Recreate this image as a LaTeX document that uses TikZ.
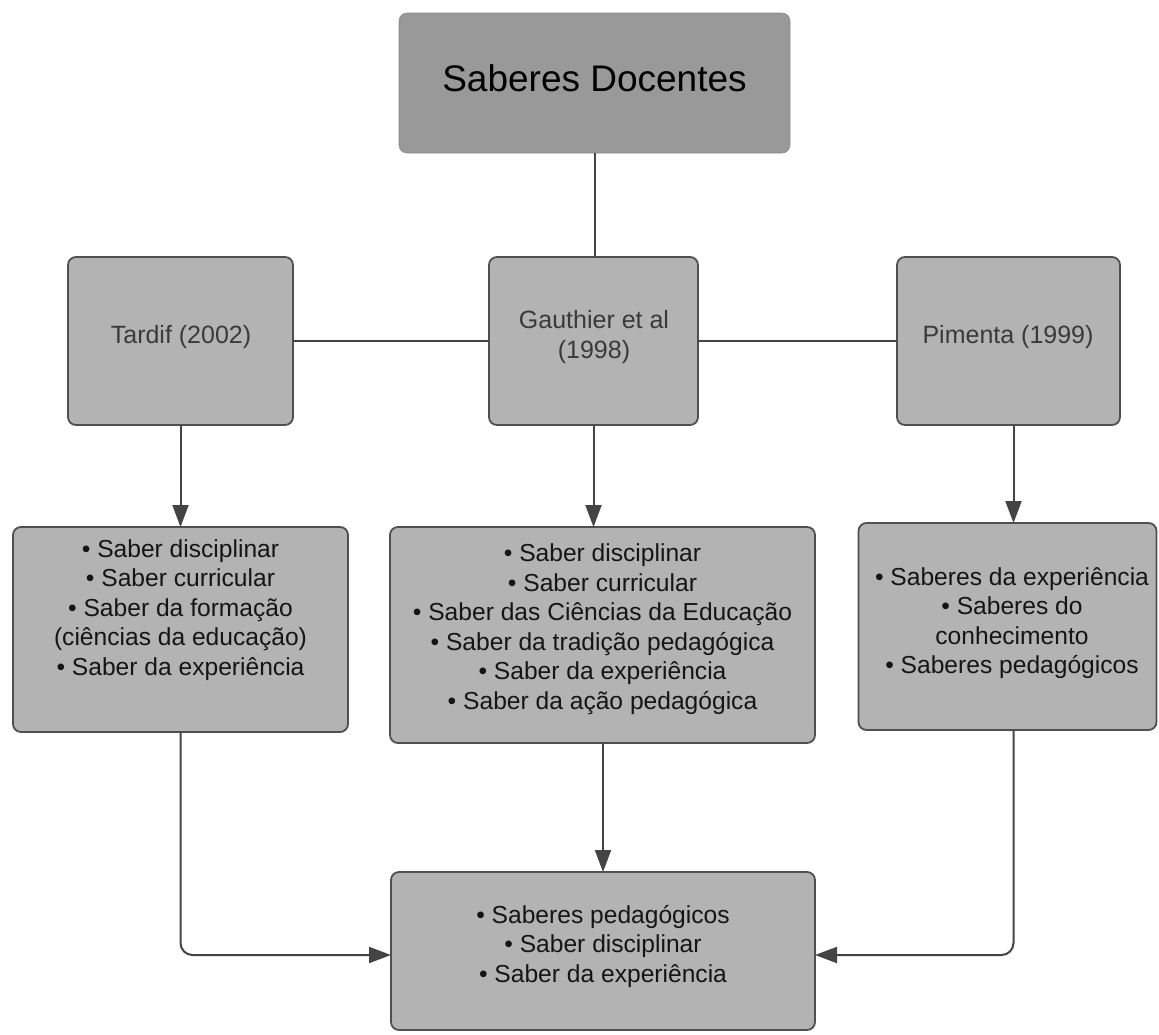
\documentclass[tikz,border=0pt]{standalone}
\usepackage{fontspec}
\setmainfont{Liberation Sans}
\usetikzlibrary{arrows.meta,positioning}
\definecolor{boxfill}{HTML}{B3B3B3}
\definecolor{topfill}{HTML}{999999}
\definecolor{edge}{HTML}{505050}
\definecolor{lbl}{HTML}{3A3A3A}
\definecolor{body}{HTML}{151515}
\definecolor{arrowc}{HTML}{444444}
\begin{document}
\begin{tikzpicture}[x=1pt,y=-1pt,
  box/.style={draw=edge,line width=1.8pt,fill=boxfill,rounded corners=8pt,inner sep=0pt,outer sep=0pt},
  topbox/.style={fill=topfill,draw=topfill!90!black,line width=0.6pt,rounded corners=8pt,inner sep=0pt,outer sep=0pt},
  lbltext/.style={text=lbl,align=center,font=\fontsize{25}{30}\selectfont,inner sep=0pt},
  bodytext/.style={text=body,align=center,font=\fontsize{24.6}{29.5}\selectfont,inner sep=0pt},
  conn/.style={draw=arrowc,line width=2pt},
  arr/.style={conn,-{Triangle[length=22pt,width=16pt]},rounded corners=12pt}
]
\useasboundingbox[fill=white] (0,0) rectangle (1159,1034);

% boxes
\node[topbox,minimum width=391pt,minimum height=140pt] (top) at (594.5,83) {};
\node[box,minimum width=225pt,minimum height=168pt] (tardif) at (180.5,341) {};
\node[box,minimum width=209pt,minimum height=168pt] (gauthier) at (593.5,341) {};
\node[box,minimum width=223pt,minimum height=168pt] (pimenta) at (1008.5,341) {};
\node[box,minimum width=335pt,minimum height=205pt] (b1) at (180.5,629.5) {};
\node[box,minimum width=425pt,minimum height=216pt] (b2) at (602.5,635) {};
\node[box,minimum width=298pt,minimum height=207pt] (b3) at (1007.5,626.5) {};
\node[box,minimum width=424pt,minimum height=158pt] (bottom) at (603,951) {};

% texts
\node[text=black,font=\fontsize{37}{44}\selectfont,inner sep=0pt] (ttop) at (594.5,78) {Saberes Docentes};
\node[lbltext] (ttardif) at (181,337) {Tardif (2002)};
\node[lbltext] (tgauthier) at (594,337) {Gauthier et al\\(1998)};
\node[lbltext] (tpimenta) at (1008,337) {Pimenta (1999)};
\node[bodytext] (tb1) at (180.5,610) {• Saber disciplinar\\• Saber curricular\\• Saber da formação\\(ciências da educação)\\• Saber da experiência};
\node[bodytext] (tb2) at (602.5,629) {• Saber disciplinar\\• Saber curricular\\• Saber das Ciências da Educação\\• Saber da tradição pedagógica\\• Saber da experiência\\• Saber da ação pedagógica};
\node[bodytext] (tb3) at (1012,623) {• Saberes da experiência\\• Saberes do\\conhecimento\\• Saberes pedagógicos};
\node[bodytext] (tbottom) at (603,946) {• Saberes pedagógicos\\• Saber disciplinar\\• Saber da experiência};

% connectors
\draw[conn] (top.south) -- (top.south |- gauthier.north);
\draw[conn] (tardif.east) -- (gauthier.west);
\draw[conn] (gauthier.east) -- (pimenta.west);
\draw[arr] (tardif.south) -- (b1.north);
\draw[arr] (gauthier.south) -- (gauthier.south |- b2.north);
\draw[arr] ([xshift=5pt]pimenta.south) -- ([xshift=5pt]pimenta.south |- b3.north);
\draw[arr] (b2.south -| bottom.north) -- (bottom.north);
\draw[arr] (b1.south) |- ([yshift=-4pt]bottom.west);
\draw[arr] ([xshift=6pt]b3.south) |- ([yshift=-4pt]bottom.east);
\end{tikzpicture}
\end{document}
